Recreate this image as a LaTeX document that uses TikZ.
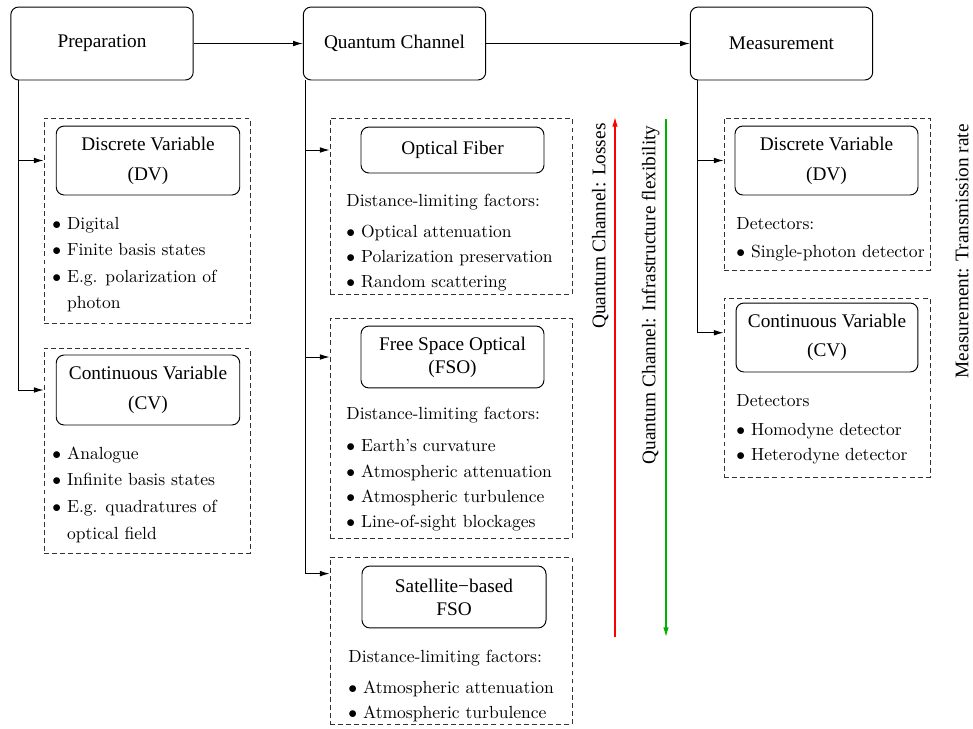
\documentclass[tikz,border=0pt]{standalone}
\usepackage{fontspec}
\newfontfamily\tms{Liberation Serif}
\usetikzlibrary{arrows.meta}

\tikzset{
  mainbox/.style={draw, rounded corners=4.5pt, minimum width=104pt, minimum height=41.6pt,
                  font=\tms\fontsize{11}{13}\selectfont, align=center},
  subbox/.style={draw, rounded corners=4.5pt, minimum width=104.6pt, inner sep=2pt,
                 font=\tms\fontsize{11}{13}\selectfont, align=center},
  groupbox/.style={draw=black!80, line width=0.45pt, dash pattern=on 2.8pt off 1.8pt, minimum width=117.4pt},
  factlist/.style={anchor=north west, inner sep=0pt, align=left, font=\fontsize{10}{14.3}\selectfont},
  sidelabel/.style={rotate=90, text=black, font=\tms\fontsize{11}{13}\selectfont},
  arr/.style={-{Latex[length=5.5pt,width=3.2pt]}},
}

\begin{document}
\begin{tikzpicture}[x=0.57pt, y=-0.57pt, line width=0.55pt]
  \useasboundingbox (0,0) rectangle (973,728);
  % Top row
  \node[mainbox] (prep) at (102,43.5) {Preparation};
  \node[mainbox] (qc) at (394.5,43.5) {Quantum Channel};
  \node[mainbox] (meas) at (781.5,43.5) {Measurement};
  \draw[arr] (prep) -- (qc);
  \draw[arr] (qc) -- (meas);

  % Preparation
  \node[groupbox, minimum height=116.9pt] (pdv) at (147,220.5) {};
  \node[subbox, minimum height=39.3pt] (pdvt) at (148,160.5) {Discrete Variable\\[4pt](DV)};
  \node[factlist, font=\fontsize{10}{15}\selectfont] (pdvl) at (52,217)
    {$\bullet$ Digital\\ $\bullet$ Finite basis states\\ $\bullet$ E.g. polarization of\\ \phantom{$\bullet$} photon};
  \node[groupbox, minimum height=116.9pt] (pcv) at (147,450.5) {};
  \node[subbox, minimum height=39.9pt] (pcvt) at (148,390) {Continuous Variable\\[4pt](CV)};
  \node[factlist, font=\fontsize{10}{15.3}\selectfont] (pcvl) at (52,446)
    {$\bullet$ Analogue\\ $\bullet$ Infinite basis states\\ $\bullet$ E.g. quadratures of\\ \phantom{$\bullet$} optical field};
  \draw[arr] ([xshift=4.5pt]prep.south west) |- (pdvt -| pdv.west);
  \draw[arr] ([xshift=4.5pt]prep.south west) |- (pcvt -| pcv.west);

  % Quantum channel
  \node[groupbox, minimum width=137.9pt, minimum height=100.3pt] (fib) at (451,206) {};
  \node[subbox, minimum width=104.3pt, minimum height=26.2pt] (fibt) at (452.5,150) {Optical Fiber};
  \node[factlist] (fibl) at (346,194)
    {Distance-limiting factors:\\[3pt] $\bullet$ Optical attenuation\\ $\bullet$ Polarization preservation\\ $\bullet$ Random scattering};
  \node[groupbox, minimum width=137.9pt, minimum height=125.4pt] (fso) at (451,428) {};
  \node[subbox, minimum width=104.3pt, minimum height=35.3pt] (fsot) at (452.5,357) {Free Space Optical\\(FSO)};
  \node[factlist] (fsol) at (346,407)
    {Distance-limiting factors:\\[4pt] $\bullet$ Earth's curvature\\ $\bullet$ Atmospheric attenuation\\ $\bullet$ Atmospheric turbulence\\ $\bullet$ Line-of-sight blockages};
  \node[groupbox, minimum width=137.9pt, minimum height=95.2pt] (sat) at (451,640.5) {};
  \node[subbox, minimum width=104.9pt, minimum height=35.3pt] (satt) at (454,597) {Satellite−based\\FSO};
  \node[factlist] (satl) at (348,650)
    {Distance-limiting factors:\\[3pt] $\bullet$ Atmospheric attenuation\\ $\bullet$ Atmospheric turbulence};
  \draw[arr] ([xshift=1.7pt]qc.south west) |- (fibt -| fib.west);
  \draw[arr] ([xshift=1.7pt]qc.south west) |- (fsot -| fso.west);
  \draw[arr] ([xshift=1.7pt]qc.south west) |- ([yshift=-9.7pt]sat.north west);

  % Trade-off arrows
  \coordinate (lossB) at (615,637);
  \coordinate (lossT) at (615,117);
  \coordinate (flexT) at (666,119);
  \coordinate (flexB) at (666,637);
  \draw[arr, red, line width=0.7pt] (lossB) -- (lossT)
    node[pos=1, sidelabel, anchor=south east] (losslbl) {Quantum Channel: Losses};
  \draw[arr, green!70!black, line width=0.7pt] (flexT) -- (flexB)
    node[pos=0, sidelabel, anchor=south east] (flexlbl) {Quantum Channel: Infrastructure flexibility};

  % Measurement
  \node[groupbox, minimum height=86.6pt] (mdv) at (827,194) {};
  \node[subbox, minimum width=104.3pt, minimum height=39.3pt] (mdvt) at (826.5,160.5) {Discrete Variable\\[4pt](DV)};
  \node[factlist] (mdvl) at (736,217) {Detectors:\\[1.7pt] $\bullet$ Single-photon detector};
  \node[groupbox, minimum height=102pt] (mcv) at (827,387.5) {};
  \node[subbox, minimum width=103.7pt, minimum height=39.3pt] (mcvt) at (827,337.5) {Continuous Variable\\[3.5pt](CV)};
  \node[factlist] (mcvl) at (736,394) {Detectors\\[2.2pt] $\bullet$ Homodyne detector\\ $\bullet$ Heterodyne detector};
  \draw[arr] ([xshift=4.5pt]meas.south west) |- (mdvt -| mdv.west);
  \draw[arr] ([xshift=4.5pt]meas.south west) |- ([yshift=-20pt]mcv.north west);
  \node[sidelabel, anchor=east] (ratelbl) at (962,118) {Measurement: Transmission rate};
\end{tikzpicture}
\end{document}
